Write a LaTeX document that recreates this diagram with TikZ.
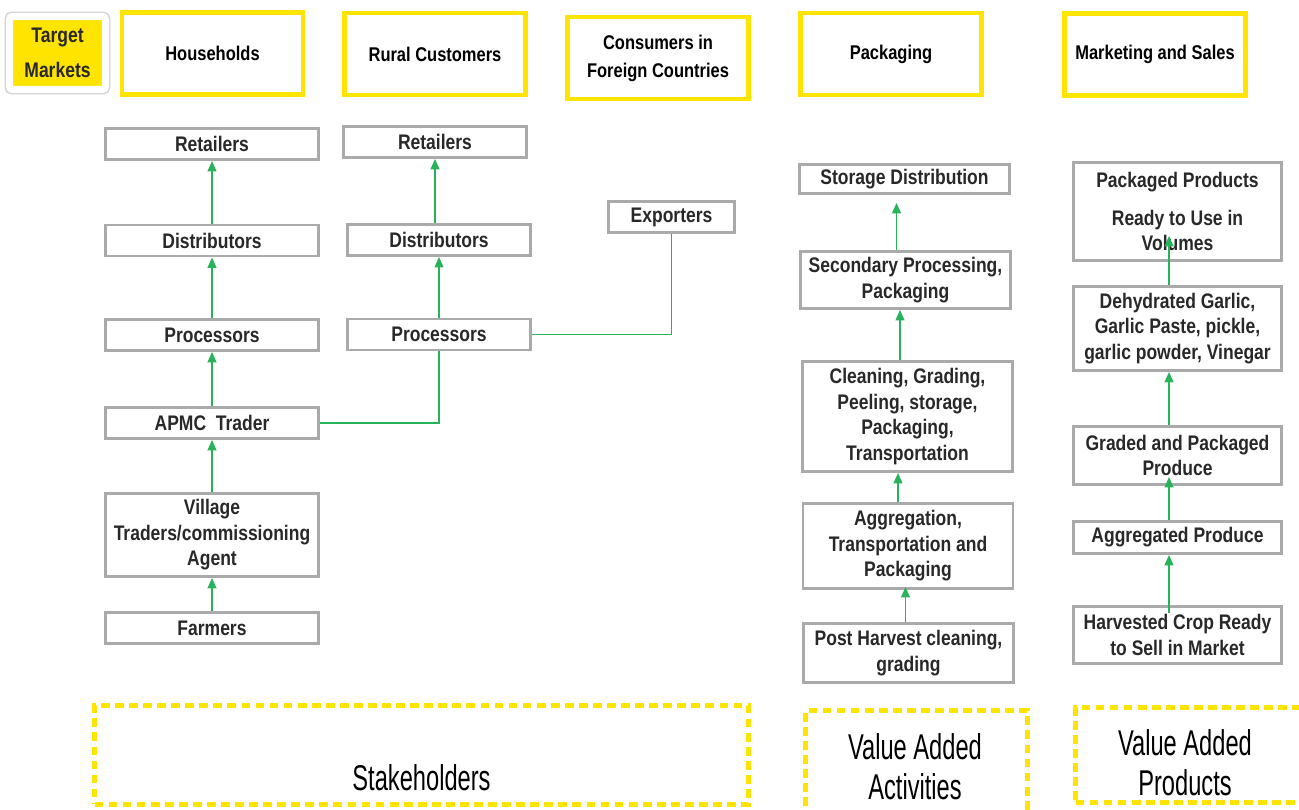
\documentclass[tikz,border=0pt]{standalone}
\usepackage{fontspec}
\setmainfont{Liberation Sans}[FakeStretch=0.83]
\newfontfamily\thinfont{Liberation Sans}[FakeStretch=0.66]
\usetikzlibrary{arrows.meta,shadows}

\definecolor{hiyellow}{RGB}{255,228,0}
\definecolor{flowgreen}{RGB}{40,178,90}
\definecolor{framegray}{RGB}{170,170,170}
\definecolor{inkgray}{RGB}{40,40,40}

\begin{document}
\begin{tikzpicture}[
  header/.style={draw=hiyellow, line width=2.3pt, minimum width=3.62cm, minimum height=1.64cm,
    align=center, font=\fontsize{11.3}{16}\selectfont\bfseries},
  stage/.style={draw=framegray, line width=1.6pt, align=center, inner sep=1pt,
    font=\fontsize{12}{14.5}\selectfont\bfseries, text=inkgray},
  flow/.style={draw=flowgreen, line width=1.1pt, -{Triangle[width=5pt,length=6pt]}},
  link/.style={draw=flowgreen, line width=1.1pt},
  zone/.style={draw=hiyellow, line width=2.6pt, dash pattern=on 5pt off 3pt},
  zonetext/.style={align=center, font=\thinfont\fontsize{20.4}{22.7}\selectfont}
]
  \useasboundingbox (0,0) rectangle (25.98,16.2);

  % target markets row
  \node[fill=hiyellow, draw=white, line width=4pt, rounded corners=1.5pt, align=center,
    minimum width=1.92cm, minimum height=1.46cm, text=inkgray,
    font=\fontsize{12}{20}\selectfont\bfseries,
    preaction={draw=black!18, line width=5.6pt},
    drop shadow={shadow xshift=0.6pt, shadow yshift=-1.8pt, opacity=0.3}]
    (tm) at (1.15,15.14) {Target\\Markets};
  \node[header] (hh) at (4.25,15.13) {Households};
  \node[header] (rc) at (8.70,15.12) {Rural Customers};
  \node[header] (cf) at (13.16,15.04) {Consumers in\\Foreign Countries};
  \node[header] (pk) at (17.82,15.12) {Packaging};
  \node[header] (ms) at (23.10,15.11) {Marketing and Sales};

  % stakeholders, households chain
  \node[stage, minimum width=4.26cm, minimum height=0.62cm] (ret1) at (4.24,13.32) {Retailers};
  \node[stage, minimum width=4.26cm, minimum height=0.62cm] (dis1) at (4.24,11.39) {Distributors};
  \node[stage, minimum width=4.26cm, minimum height=0.62cm] (pro1) at (4.24,9.50) {Processors};
  \node[stage, minimum width=4.26cm, minimum height=0.62cm] (apmc) at (4.24,7.74) {APMC~~Trader};
  \node[stage, minimum width=4.26cm, minimum height=1.66cm] (vil) at (4.24,5.50) {Village\\Traders/commissioning\\Agent};
  \node[stage, minimum width=4.26cm, minimum height=0.62cm] (far) at (4.24,3.64) {Farmers};

  \draw[flow] (far) -- (vil);
  \draw[flow] (vil) -- (apmc);
  \draw[flow] (apmc) -- (pro1);
  \draw[flow] (pro1) -- (dis1);
  \draw[flow] (dis1) -- (ret1);

  % rural and export chain
  \node[stage, minimum width=3.66cm, minimum height=0.62cm] (ret2) at (8.70,13.36) {Retailers};
  \node[stage, minimum width=3.66cm, minimum height=0.62cm] (dis2) at (8.78,11.40) {Distributors};
  \node[stage, minimum width=3.66cm, minimum height=0.62cm] (pro2) at (8.78,9.51) {Processors};
  \node[stage, minimum width=2.52cm, minimum height=0.62cm] (exp) at (13.43,11.86) {Exporters};

  \draw[link] (apmc.east) -| (pro2.south);
  \draw[link] (pro2.east) -| (exp.south);
  \draw[flow] (pro2) -- (dis2);
  \draw[flow] (dis2.north -| ret2) -- (ret2.south);

  % value added activities
  \node[stage, minimum width=4.2cm, minimum height=0.58cm] (sto) at (18.09,12.62) {Storage Distribution};
  \node[stage, minimum width=4.2cm, minimum height=1.14cm] (sec) at (18.11,10.60) {Secondary Processing,\\Packaging};
  \node[stage, minimum width=4.2cm, minimum height=2.20cm] (cle) at (18.15,7.87) {Cleaning, Grading,\\Peeling, storage,\\Packaging,\\Transportation};
  \node[stage, minimum width=4.2cm, minimum height=1.70cm] (agg) at (18.16,5.28) {Aggregation,\\Transportation and\\Packaging};
  \node[stage, minimum width=4.2cm, minimum height=1.18cm] (pos) at (18.17,3.14) {Post Harvest cleaning,\\grading};

  \draw[flow, shorten >=0.16cm] ([xshift=-0.18cm]sec.north) -- ([xshift=-0.18cm]sec.north |- sto.south);
  \draw[flow] ([xshift=-0.15cm]cle.north) -- ([xshift=-0.15cm]cle.north |- sec.south);
  \draw[flow] ([xshift=-0.2cm]agg.north) -- ([xshift=-0.2cm]agg.north |- cle.south);
  \draw[flow, shorten >=-0.06cm] ([xshift=-0.06cm]pos.north) -- ([xshift=-0.06cm]pos.north |- agg.south);

  % value added products
  \node[stage, minimum width=4.16cm, minimum height=1.96cm] (pkd) at (23.55,11.97) {Packaged Products\\[7pt]Ready to Use in\\Volumes};
  \node[stage, minimum width=4.16cm, minimum height=1.68cm] (deh) at (23.55,9.63) {Dehydrated Garlic,\\Garlic Paste, pickle,\\garlic powder, Vinegar};
  \node[stage, minimum width=4.16cm, minimum height=1.16cm] (grd) at (23.55,7.09) {Graded and Packaged\\Produce};
  \node[stage, minimum width=4.16cm, minimum height=0.64cm] (agp) at (23.55,5.45) {Aggregated Produce};
  \node[stage, minimum width=4.16cm, minimum height=1.14cm] (hrv) at (23.55,3.50) {Harvested Crop Ready\\to Sell in Market};

  \draw[flow, shorten >=-0.52cm] ([xshift=-0.17cm]deh.north) -- ([xshift=-0.17cm]deh.north |- pkd.south);
  \draw[flow] ([xshift=-0.17cm]grd.north) -- ([xshift=-0.17cm]grd.north |- deh.south);
  \draw[flow, shorten >=-0.18cm] ([xshift=-0.17cm]agp.north) -- ([xshift=-0.17cm]agp.north |- grd.south);
  \draw[flow, shorten <=-0.16cm] ([xshift=-0.17cm]hrv.north) -- ([xshift=-0.17cm]hrv.north |- agp.south);

  % bottom zones
  \node[zone, minimum width=13.08cm, minimum height=1.98cm] (stk) at (8.43,1.10) {};
  \node[zonetext] (stklabel) at (8.43,0.64) {Stakeholders};
  \node[zone, minimum width=4.44cm, minimum height=2.04cm] (vaa) at (18.33,0.97) {};
  \node[zonetext] (vaalabel) at (18.30,0.86) {Value Added\\Activities};
  \node[zone, minimum width=4.54cm, minimum height=1.90cm] (vap) at (23.78,1.10) {};
  \node[zonetext] (vaplabel) at (23.70,0.94) {Value Added\\Products};
\end{tikzpicture}
\end{document}
